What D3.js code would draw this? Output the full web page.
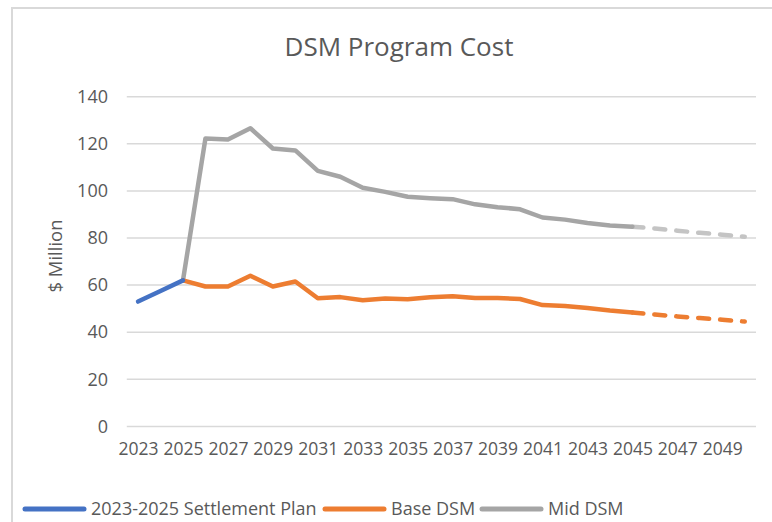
<!DOCTYPE html>
<html>
<head>
<meta charset="utf-8">
<script src="https://cdn.jsdelivr.net/npm/d3@7"></script>
<style>
  body { margin: 0; background: #fff; }
  svg { display: block; font-family: "Open Sans", "Noto Sans", sans-serif; }
</style>
</head>
<body>
<svg id="chart" width="772" height="522"></svg>
<script>
// categories
var years = [2023, 2024, 2025, 2026, 2027, 2028, 2029, 2030, 2031, 2032, 2033, 2034, 2035, 2036,
             2037, 2038, 2039, 2040, 2041, 2042, 2043, 2044, 2045, 2046, 2047, 2048, 2049, 2050];
var tickYears = [2023, 2025, 2027, 2029, 2031, 2033, 2035, 2037, 2039, 2041, 2043, 2045, 2047, 2049];
var yTicks = [0, 20, 40, 60, 80, 100, 120, 140];

// series ($ Million)
var settlementYears = [2023, 2024, 2025];
var settlement = [53, 57.5, 62];

var actualYears = [2025, 2026, 2027, 2028, 2029, 2030, 2031, 2032, 2033, 2034, 2035,
                   2036, 2037, 2038, 2039, 2040, 2041, 2042, 2043, 2044, 2045];
var baseDsm = [62, 59.4, 59.4, 64, 59.4, 61.5, 54.4, 54.9, 53.6, 54.3, 54,
               54.8, 55.3, 54.5, 54.5, 54.1, 51.5, 51.1, 50.3, 49.2, 48.4];
var midDsm = [62, 122.3, 121.8, 126.6, 118, 117.2, 108.5, 106, 101.3, 99.6, 97.5,
              96.9, 96.5, 94.3, 93.1, 92.2, 88.7, 87.8, 86.4, 85.3, 84.8];

var forecastYears = [2045, 2046, 2047, 2048, 2049, 2050];
var baseDsmForecast = [48.4, 47.5, 46.7, 46, 45.3, 44.5];
var midDsmForecast = [84.8, 84, 83.1, 82.2, 81.4, 80.5];

var svg = d3.select("#chart");
var textColor = "#595959";
var gridColor = "#d9d9d9";

// chart area border
svg.append("rect")
  .attr("x", 12).attr("y", 8)
  .attr("width", 800).attr("height", 600)
  .attr("fill", "none")
  .attr("stroke", gridColor)
  .attr("stroke-width", 2);

var x = d3.scalePoint().domain(years).range([126.8, 756]).padding(0.5);
var y = d3.scaleLinear().domain([0, 140]).range([426.4, 96.7]);

// gridlines
svg.append("g").selectAll("line")
  .data(yTicks)
  .join("line")
  .attr("x1", 126.8).attr("x2", 756)
  .attr("y1", function(d) { return y(d); })
  .attr("y2", function(d) { return y(d); })
  .attr("stroke", gridColor)
  .attr("stroke-width", 1.5);

// y axis labels
var yAxis = svg.append("g")
  .attr("transform", "translate(108,0)")
  .call(d3.axisLeft(y).tickValues(yTicks).tickSize(0).tickPadding(0));
yAxis.select(".domain").remove();
yAxis.selectAll("text")
  .attr("fill", textColor)
  .style("font-size", "18px")
  .style("font-family", "'Open Sans', sans-serif");

// x axis labels
var xAxis = svg.append("g")
  .attr("transform", "translate(0,443)")
  .call(d3.axisBottom(x).tickValues(tickYears).tickSize(0).tickPadding(0));
xAxis.select(".domain").remove();
xAxis.selectAll("text")
  .attr("fill", textColor)
  .style("font-size", "17.5px")
  .style("font-family", "'Open Sans', sans-serif");

function drawLine(xs, vals, color, dash) {
  var line = d3.line()
    .x(function(d, i) { return x(xs[i]); })
    .y(function(d) { return y(d); });
  var p = svg.append("path")
    .datum(vals)
    .attr("d", line)
    .attr("fill", "none")
    .attr("stroke", color)
    .attr("stroke-width", 4.5)
    .attr("stroke-linejoin", "round")
    .attr("stroke-linecap", "round");
  if (dash) p.attr("stroke-dasharray", dash).attr("stroke-linecap", "round");
}

drawLine(forecastYears, midDsmForecast, "#c4c4c4", "11,11");
drawLine(forecastYears, baseDsmForecast, "#ed7d31", "11,11");
drawLine(actualYears, midDsm, "#a5a5a5");
drawLine(actualYears, baseDsm, "#ed7d31");
drawLine(settlementYears, settlement, "#4472c4");

// title
svg.append("text")
  .attr("x", 399).attr("y", 56)
  .attr("text-anchor", "middle")
  .attr("fill", textColor)
  .style("font-size", "26px")
  .text("DSM Program Cost");

// y axis title
svg.append("text")
  .attr("transform", "translate(62,256) rotate(-90)")
  .attr("text-anchor", "middle")
  .attr("fill", textColor)
  .style("font-size", "18.5px")
  .text("$ Million");

// legend
var legend = [
  { name: "2023-2025 Settlement Plan", color: "#4472c4", x: 25 },
  { name: "Base DSM", color: "#ed7d31", x: 325 },
  { name: "Mid DSM", color: "#a5a5a5", x: 482 }
];
var lg = svg.append("g").selectAll("g")
  .data(legend)
  .join("g")
  .attr("transform", function(d) { return "translate(" + d.x + ",509)"; });
lg.append("line")
  .attr("x1", 0).attr("x2", 59)
  .attr("stroke", function(d) { return d.color; })
  .attr("stroke-width", 5)
  .attr("stroke-linecap", "round");
lg.append("text")
  .attr("x", 66).attr("dy", "0.35em")
  .attr("fill", textColor)
  .style("font-size", "18px")
  .text(function(d) { return d.name; });
</script>
</body>
</html>
